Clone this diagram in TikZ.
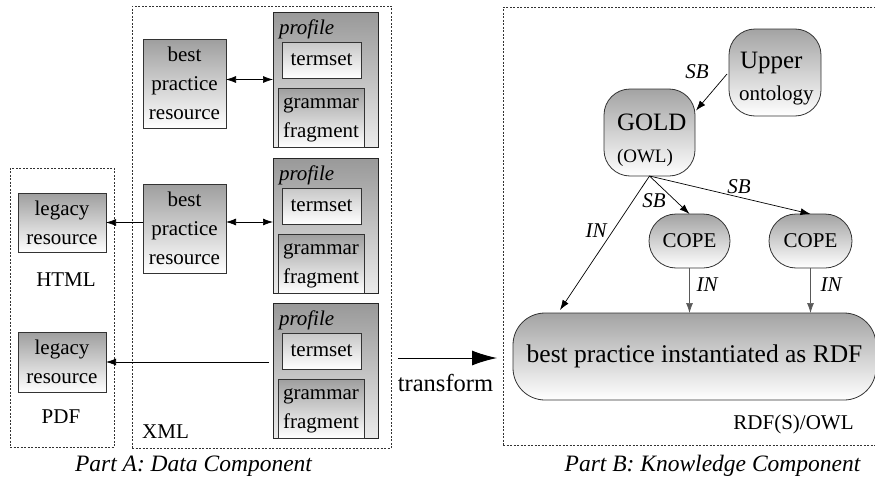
\documentclass[tikz,border=0pt]{standalone}
\usepackage{fontspec}
\setmainfont{Liberation Serif}
\usetikzlibrary{arrows.meta,calc}
\begin{document}
\begin{tikzpicture}[x=1pt,y=-1pt,
  every node/.style={inner sep=0pt, outer sep=0pt},
  txt/.style={font=\fontsize{21}{29}\selectfont},
  itxt/.style={font=\fontsize{21}{29}\selectfont\itshape},
  sqbox/.style={draw=black!80, line width=0.8pt, top color=black!38, bottom color=white,
    font=\fontsize{21}{29}\selectfont, align=center},
  profbox/.style={draw=black!85, line width=0.8pt, top color=black!40, bottom color=black!8},
  tsbox/.style={sqbox, top color=black!22, bottom color=white},
  rbox/.style={draw=black!80, line width=0.8pt, rounded corners=26pt, top color=black!36, bottom color=white},
  frame/.style={draw=black!80, line width=0.7pt, dash pattern=on 2pt off 1.5pt},
  arr/.style={-{Latex[length=10pt,width=7pt]}, line width=0.7pt},
  darr/.style={{Latex[length=10pt,width=7pt]}-{Latex[length=10pt,width=7pt]}, line width=0.7pt},
  garr/.style={arr, draw=black!65}
]
\clip (0,0) rectangle (875,479);

% frames
\node[frame, minimum width=259pt, minimum height=442pt] (xmlframe) at (261.5,227) {};
\node[frame, minimum width=104pt, minimum height=279pt] (legframe) at (62,307.5) {};
\node[frame, minimum width=382pt, minimum height=438pt] (kbframe) at (694,226) {};

% best practice resources
\node[sqbox, minimum width=83pt, minimum height=89pt] (bp1) at (184.5,83.5) {best\\practice\\resource};
\node[sqbox, minimum width=83pt, minimum height=89pt] (bp2) at (184.5,228.5) {best\\practice\\resource};

% profiles
\foreach \n/\t in {1/12,2/158,3/303}{
  \node[profbox, minimum width=105pt, minimum height=135pt] (prof\n) at (325.5,\t+67.5) {};
  \node[itxt, anchor=base west] (proflbl\n) at (279,\t+22) {profile};
  \node[tsbox, minimum width=79pt, minimum height=36pt] (term\n) at (321.5,\t+48) {termset};
  \node[sqbox, minimum width=86pt, minimum height=59pt] (gram\n) at (321,\t+105.5) {\strut grammar\\\strut fragment};
}

% legacy resources
\node[sqbox, minimum width=88pt, minimum height=59pt] (leg1) at (62,222.5) {legacy\\resource};
\node[sqbox, minimum width=88pt, minimum height=60pt] (leg2) at (62,362) {legacy\\resource};
\node[txt] (html) at (66,280) {HTML};
\node[txt] (pdf) at (61,416.5) {PDF};
\node[txt] (xml) at (165.5,431.5) {XML};

% left connectors
\draw[darr] (bp1.east |- prof1.west) -- (prof1.west);
\coordinate (y2) at (0,222);
\draw[darr] (bp2.east |- y2) -- (prof2.west |- y2);
\draw[arr] (bp2.west |- leg1.east) -- (leg1.east);
\draw[arr] ($(prof3.west |- leg2.east)+(-4,0)$) -- (leg2.east);

% transform
\coordinate (tA) at (398,358);
\coordinate (tB) at (497,358);
\draw[-{Latex[length=25pt,width=15pt]}, line width=1pt] (tA) -- (tB);
\node[font=\fontsize{24.5}{29}\selectfont, anchor=base] (transf) at (445.5,391) {transform};

% knowledge component
\node[rbox, minimum width=92pt, minimum height=87pt] (upper) at (775,72.5) {};
\node[font=\fontsize{25}{30}\selectfont, anchor=base west] (uppertxt) at (740,68) {Upper};
\node[txt, anchor=base west] (ontotxt) at (739,100) {ontology};

\node[rbox, minimum width=91pt, minimum height=87pt] (gold) at (649.5,132.5) {};
\node[font=\fontsize{25}{30}\selectfont, anchor=base west] (goldtxt) at (617,130) {GOLD};
\node[font=\fontsize{19}{24}\selectfont, anchor=base west] (owltxt) at (617,162) {(OWL)};

\node[rbox, rounded corners=27pt, minimum width=81pt, minimum height=54pt, font=\fontsize{21}{29}\selectfont] (cope1) at (689.5,241) {COPE};
\node[rbox, rounded corners=27pt, minimum width=83pt, minimum height=54pt, font=\fontsize{21}{29}\selectfont] (cope2) at (810.5,241) {COPE};

\node[rbox, rounded corners=32pt, minimum width=363pt, minimum height=87pt, font=\fontsize{25.5}{30}\selectfont] (big) at (694.5,356.5) {best practice instantiated as RDF};

\node[txt, anchor=base] (rdfs) at (793.5,429) {RDF(S)/OWL};

% right connectors
\draw[arr] ($(upper.west)+(-2,1.5)$) -- ($(gold.east)+(1,-22)$);
\draw[arr] (gold.south) -- (cope1.north);
\draw[arr] (gold.south) -- (cope2.north);
\draw[arr] (gold.south) -- ($(big.north west)+(47,-3)$);
\draw[garr] (cope1.south) -- (cope1.south |- big.north);
\draw[garr] (cope2.south) -- (cope2.south |- big.north);

\node[itxt] (sb1) at (697,71.5) {SB};
\node[itxt] (sb2) at (654,201) {SB};
\node[itxt] (sb3) at (739,186.5) {SB};
\node[itxt] (in1) at (596,231) {IN};
\node[itxt] (in2) at (707,284.5) {IN};
\node[itxt] (in3) at (831,284.5) {IN};

% captions
\node[font=\fontsize{23.5}{28}\selectfont\itshape, anchor=base] (capA) at (193.5,471.5) {Part A: Data Component};
\node[font=\fontsize{23.5}{28}\selectfont\itshape, anchor=base] (capB) at (712.5,471.5) {Part B: Knowledge Component};
\end{tikzpicture}
\end{document}
